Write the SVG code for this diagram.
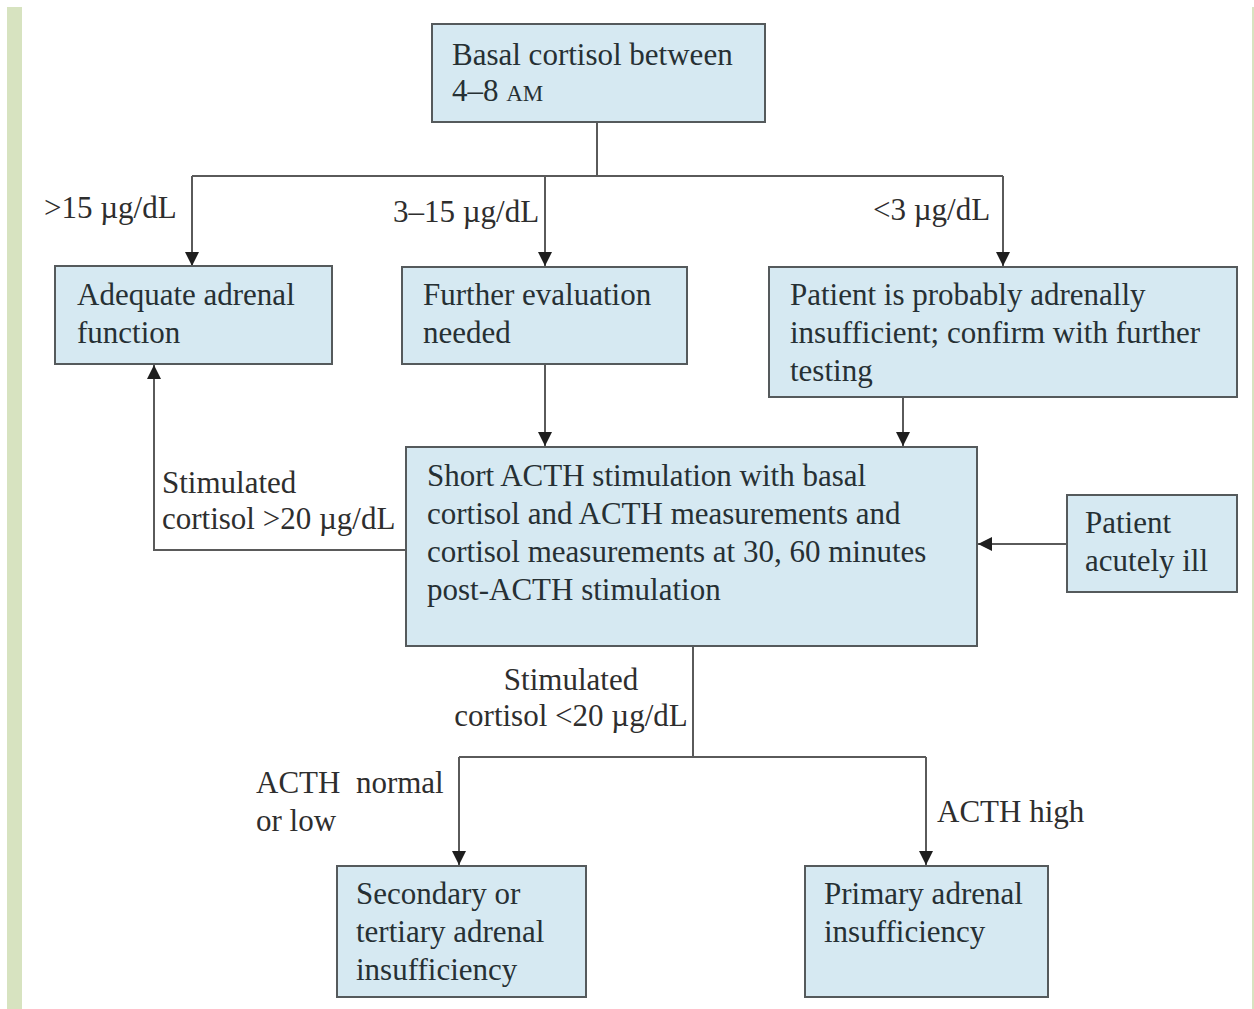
<svg xmlns="http://www.w3.org/2000/svg" width="1254" height="1009" viewBox="0 0 1254 1009">
<defs>
<style>
.box{fill:#d6e9f2;stroke:#555a5c;stroke-width:2}
.t{font-family:"Liberation Serif","Times New Roman",serif;font-size:31px;fill:#263034}
.l{font-family:"Liberation Serif","Times New Roman",serif;font-size:31px;fill:#2e2e2e}
.c{fill:none;stroke:#5a5a5a;stroke-width:2}
</style>
<marker id="ah" viewBox="0 0 14 14" refX="14" refY="7" markerWidth="14" markerHeight="14" markerUnits="userSpaceOnUse" orient="auto">
<path d="M0,0 L14,7 L0,14 Z" fill="#1e1e1e"/>
</marker>
</defs>
<rect x="0" y="0" width="1254" height="1009" fill="#ffffff"/>
<rect x="7" y="7" width="15" height="1002" fill="#d7e3c0"/>
<rect x="1252" y="7" width="2" height="1002" fill="#d7e3c0"/>

<g id="connectors">
<path class="c" d="M597,122 V176"/>
<path class="c" d="M192,176 H1003"/>
<path class="c" d="M192,176 V266" marker-end="url(#ah)"/>
<path class="c" d="M545,176 V266" marker-end="url(#ah)"/>
<path class="c" d="M1003,176 V266" marker-end="url(#ah)"/>
<path class="c" d="M545,364 V446" marker-end="url(#ah)"/>
<path class="c" d="M903,397 V446" marker-end="url(#ah)"/>
<path class="c" d="M406,550 H154 V365" marker-end="url(#ah)"/>
<path class="c" d="M1067,544 H978" marker-end="url(#ah)"/>
<path class="c" d="M693,646 V757"/>
<path class="c" d="M459,757 H926"/>
<path class="c" d="M459,757 V865" marker-end="url(#ah)"/>
<path class="c" d="M926,757 V865" marker-end="url(#ah)"/>
<text class="l" x="44" y="218">&gt;15 µg/dL</text>
<text class="l" x="393" y="222">3–15 µg/dL</text>
<text class="l" x="873" y="220">&lt;3 µg/dL</text>
<text class="l" x="162" y="493">Stimulated</text>
<text class="l" x="162" y="529">cortisol &gt;20 µg/dL</text>
<text class="l" x="571" y="690" text-anchor="middle">Stimulated</text>
<text class="l" x="571" y="726" text-anchor="middle">cortisol &lt;20 µg/dL</text>
<text class="l" x="256" y="793" xml:space="preserve">ACTH  normal</text>
<text class="l" x="256" y="831">or low</text>
<text class="l" x="937" y="822">ACTH high</text>
</g>

<g id="n-basal">
<rect class="box" x="432" y="24" width="333" height="98"/>
<text class="t" x="452" y="65">Basal cortisol between</text>
<text class="t" x="452" y="101">4–8 <tspan font-size="23">AM</tspan></text>
</g>

<g id="n-adequate">
<rect class="box" x="55" y="266" width="277" height="98"/>
<text class="t" x="77" y="305">Adequate adrenal</text>
<text class="t" x="77" y="343">function</text>
</g>

<g id="n-further">
<rect class="box" x="402" y="267" width="285" height="97"/>
<text class="t" x="423" y="305">Further evaluation</text>
<text class="t" x="423" y="343">needed</text>
</g>

<g id="n-probably">
<rect class="box" x="769" y="267" width="468" height="130"/>
<text class="t" x="790" y="305">Patient is probably adrenally</text>
<text class="t" x="790" y="343">insufficient; confirm with further</text>
<text class="t" x="790" y="381">testing</text>
</g>

<g id="n-short">
<rect class="box" x="406" y="447" width="571" height="199"/>
<text class="t" x="427" y="486">Short ACTH stimulation with basal</text>
<text class="t" x="427" y="524">cortisol and ACTH measurements and</text>
<text class="t" x="427" y="562">cortisol measurements at 30, 60 minutes</text>
<text class="t" x="427" y="600">post-ACTH stimulation</text>
</g>

<g id="n-ill">
<rect class="box" x="1067" y="495" width="170" height="97"/>
<text class="t" x="1085" y="533">Patient</text>
<text class="t" x="1085" y="571">acutely ill</text>
</g>

<g id="n-secondary">
<rect class="box" x="337" y="866" width="249" height="131"/>
<text class="t" x="356" y="904">Secondary or</text>
<text class="t" x="356" y="942">tertiary adrenal</text>
<text class="t" x="356" y="980">insufficiency</text>
</g>

<g id="n-primary">
<rect class="box" x="805" y="866" width="243" height="131"/>
<text class="t" x="824" y="904">Primary adrenal</text>
<text class="t" x="824" y="942">insufficiency</text>
</g>
</svg>
